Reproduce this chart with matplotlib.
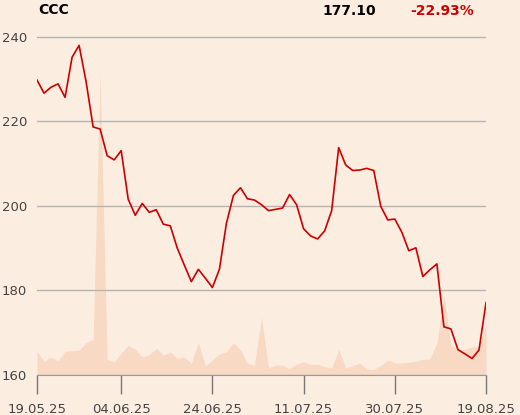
import numpy as np
import pandas as pd
import matplotlib
matplotlib.use('Agg')
import matplotlib.pyplot as plt

plt.rcParams['font.family'] = 'DejaVu Sans'

bg = '#fcede1'
fill_col = '#f8d9c4'
red = '#cc0000'

ticker = 'CCC'
last_price = '177.10'
change = '-22.93%'

# Warsaw trading days 19.05.25 - 19.08.25 (holidays 19.06, 15.08)
holidays = ['2025-06-19', '2025-08-15']
dates = pd.bdate_range('2025-05-19', '2025-08-19')
dates = dates[~dates.isin(pd.to_datetime(holidays))]

close = [229.8, 226.7, 228.1, 228.9, 225.7, 235.2, 238.0, 229.4, 218.7, 218.2,
         211.9, 210.9, 213.1, 201.6, 197.8, 200.6, 198.5, 199.1, 195.7, 195.3,
         190.0, 186.0, 182.1, 185.0, 182.9, 180.7, 185.0, 195.9, 202.5, 204.3,
         201.7, 201.4, 200.3, 198.9, 199.2, 199.5, 202.7, 200.3, 194.6, 192.9,
         192.2, 194.1, 198.9, 213.8, 209.7, 208.4, 208.5, 208.9, 208.4, 199.9,
         196.7, 196.9, 193.8, 189.4, 190.1, 183.3, 184.9, 186.3, 171.4, 170.9,
         166.0, 165.0, 163.9, 165.9, 177.1]

# volume (thousand shares, approx.)
volume = [24, 13.7, 18, 14.3, 23.7, 24.3, 25, 32.3, 35.7, 302,
          15.7, 13, 21.7, 29.7, 25.7, 18.3, 20.3, 26.7, 20, 22.7,
          16.7, 18, 11.7, 32.7, 9.3, 15, 21, 23.3, 32.3, 25,
          11.7, 9.7, 57.7, 7.3, 9.7, 9.7, 6.3, 11, 13, 10.7,
          10.7, 8.3, 7, 25.7, 7.3, 9.3, 12, 6, 5.3, 9.7,
          15, 12, 12, 12.7, 13.7, 15.7, 16, 32.3, 80, 30,
          24, 26, 28, 28, 50]

tick_dates = ['2025-05-19', '2025-06-04', '2025-06-24',
              '2025-07-11', '2025-07-30', '2025-08-19']

x = np.arange(len(dates))
tick_pos = [dates.get_loc(pd.Timestamp(d)) for d in tick_dates]
tick_labels = [pd.Timestamp(d).strftime('%d.%m.%y') for d in tick_dates]

fig = plt.figure(figsize=(5.2, 4.15), dpi=100, facecolor=bg)
ax = fig.add_axes([37/520, 40/415, 449/520, 346.5/415])
ax2 = ax.twinx()
ax2.set_facecolor(bg)
ax.set_zorder(ax2.get_zorder() + 1)
ax.patch.set_visible(False)

ax2.fill_between(x, 0, volume, color=fill_col, linewidth=0)
ax2.set_ylim(0, 346.5)
ax2.set_yticks([])
for s in ax2.spines.values():
    s.set_visible(False)

ax.plot(x, close, color=red, linewidth=1.2)
ax.set_xlim(0, len(x) - 1)
ax.set_ylim(160, 242)
ax.set_yticks([160, 180, 200, 220, 240])
ax.grid(axis='y', color='#b4b4b4', linewidth=1)
ax.set_axisbelow(True)
for s in ['top', 'right', 'left']:
    ax.spines[s].set_visible(False)
ax.spines['bottom'].set_color('#999999')
ax.tick_params(axis='y', length=0, pad=7, labelsize=9.5, labelcolor='#444444')
ax.set_xticks(tick_pos)
ax.set_xticklabels(tick_labels)
ax.tick_params(axis='x', length=14, width=1, color='#777777', pad=6,
               labelsize=9.5, labelcolor='#444444')

fig.text(38/520, 1 - 10/415, ticker, fontsize=10, fontweight='bold',
         va='center', ha='left', color='black')
fig.text(322/520, 1 - 11/415, last_price, fontsize=10, fontweight='bold',
         va='center', ha='left', color='black')
fig.text(410/520, 1 - 11/415, change, fontsize=10, fontweight='bold',
         va='center', ha='left', color=red)

fig.savefig('out.png', dpi=100, facecolor=bg)
